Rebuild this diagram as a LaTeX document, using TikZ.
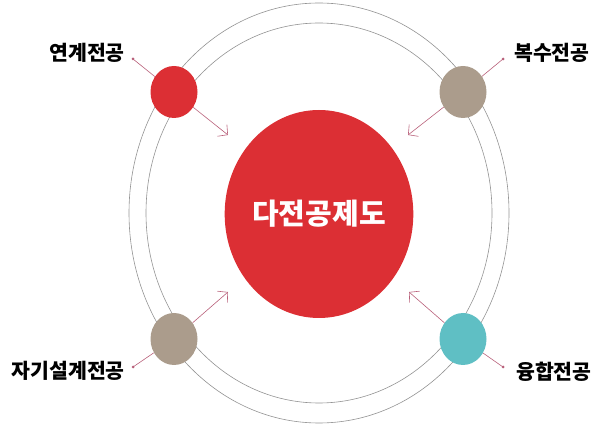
\documentclass[tikz,border=0pt]{standalone}
\usepackage{fontspec}
\setmainfont{Noto Sans CJK KR}
\usetikzlibrary{shapes.geometric,arrows.meta}
\definecolor{majorred}{HTML}{DC2F34}
\definecolor{majortan}{HTML}{AB9C8C}
\definecolor{majorteal}{HTML}{5FBFC4}
\definecolor{linkpink}{HTML}{B8607A}
\begin{document}
\begin{tikzpicture}[x=1pt,y=-1pt,ring/.style={draw=gray!85,line width=0.6pt},major/.style={shape=ellipse,inner sep=0,minimum width=47,minimum height=52},link/.style={draw=linkpink,line width=0.6pt},linkA/.style={link,-{Straight Barb[length=7pt,width=15pt]}},tag/.style={font=\bfseries\fontsize{20.5}{20.5}\selectfont,text=black,inner sep=0},hub/.style={shape=ellipse,inner sep=0,minimum width=188,minimum height=208,fill=majorred,text=white,font=\bfseries\fontsize{29}{29}\selectfont}]
\def\cx{319};
\def\cy{213};
\def\dx{145};
\def\dy{123};

\useasboundingbox (0,0) rectangle (597,435);

\draw[ring] (\cx,\cy) ellipse [x radius=190pt,y radius=210pt];
\draw[ring] (\cx,\cy) ellipse [x radius=173pt,y radius=190pt];

\node[hub] (H) at (\cx,\cy+1) {다전공제도};

\coordinate (s1) at (133,59);
\coordinate (t1) at (228,135);
\node[major,fill=majorred] (M1) at (\cx-\dx,\cy-\dy+2) {};
\node[tag,anchor=east] (L1) at (125,53) {연계전공};
\draw[link] (s1) -- (M1);
\draw[linkA] (M1) -- (t1);
\fill[linkpink] (s1) circle (1.5pt);

\coordinate (s2) at (503,59);
\coordinate (t2) at (408,135);
\node[major,fill=majortan] (M2) at (\cx+\dx-1,\cy-\dy+2) {};
\node[tag,anchor=west] (L2) at (514,53) {복수전공};
\draw[link] (s2) -- (M2);
\draw[linkA] (M2) -- (t2);
\fill[linkpink] (s2) circle (1.5pt);

\coordinate (s3) at (133,367);
\coordinate (t3) at (228,292);
\node[major,fill=majortan] (M3) at (\cx-\dx,\cy+\dy+3) {};
\node[tag,anchor=east] (L3) at (125,371) {자기설계전공};
\draw[link] (s3) -- (M3);
\draw[linkA] (M3) -- (t3);
\fill[linkpink] (s3) circle (1.5pt);

\coordinate (s4) at (503,367);
\coordinate (t4) at (409,292);
\node[major,fill=majorteal] (M4) at (\cx+\dx-1,\cy+\dy+3) {};
\node[tag,anchor=west] (L4) at (516,372) {융합전공};
\draw[link] (s4) -- (M4);
\draw[linkA] (M4) -- (t4);
\fill[linkpink] (s4) circle (1.5pt);
\end{tikzpicture}
\end{document}
